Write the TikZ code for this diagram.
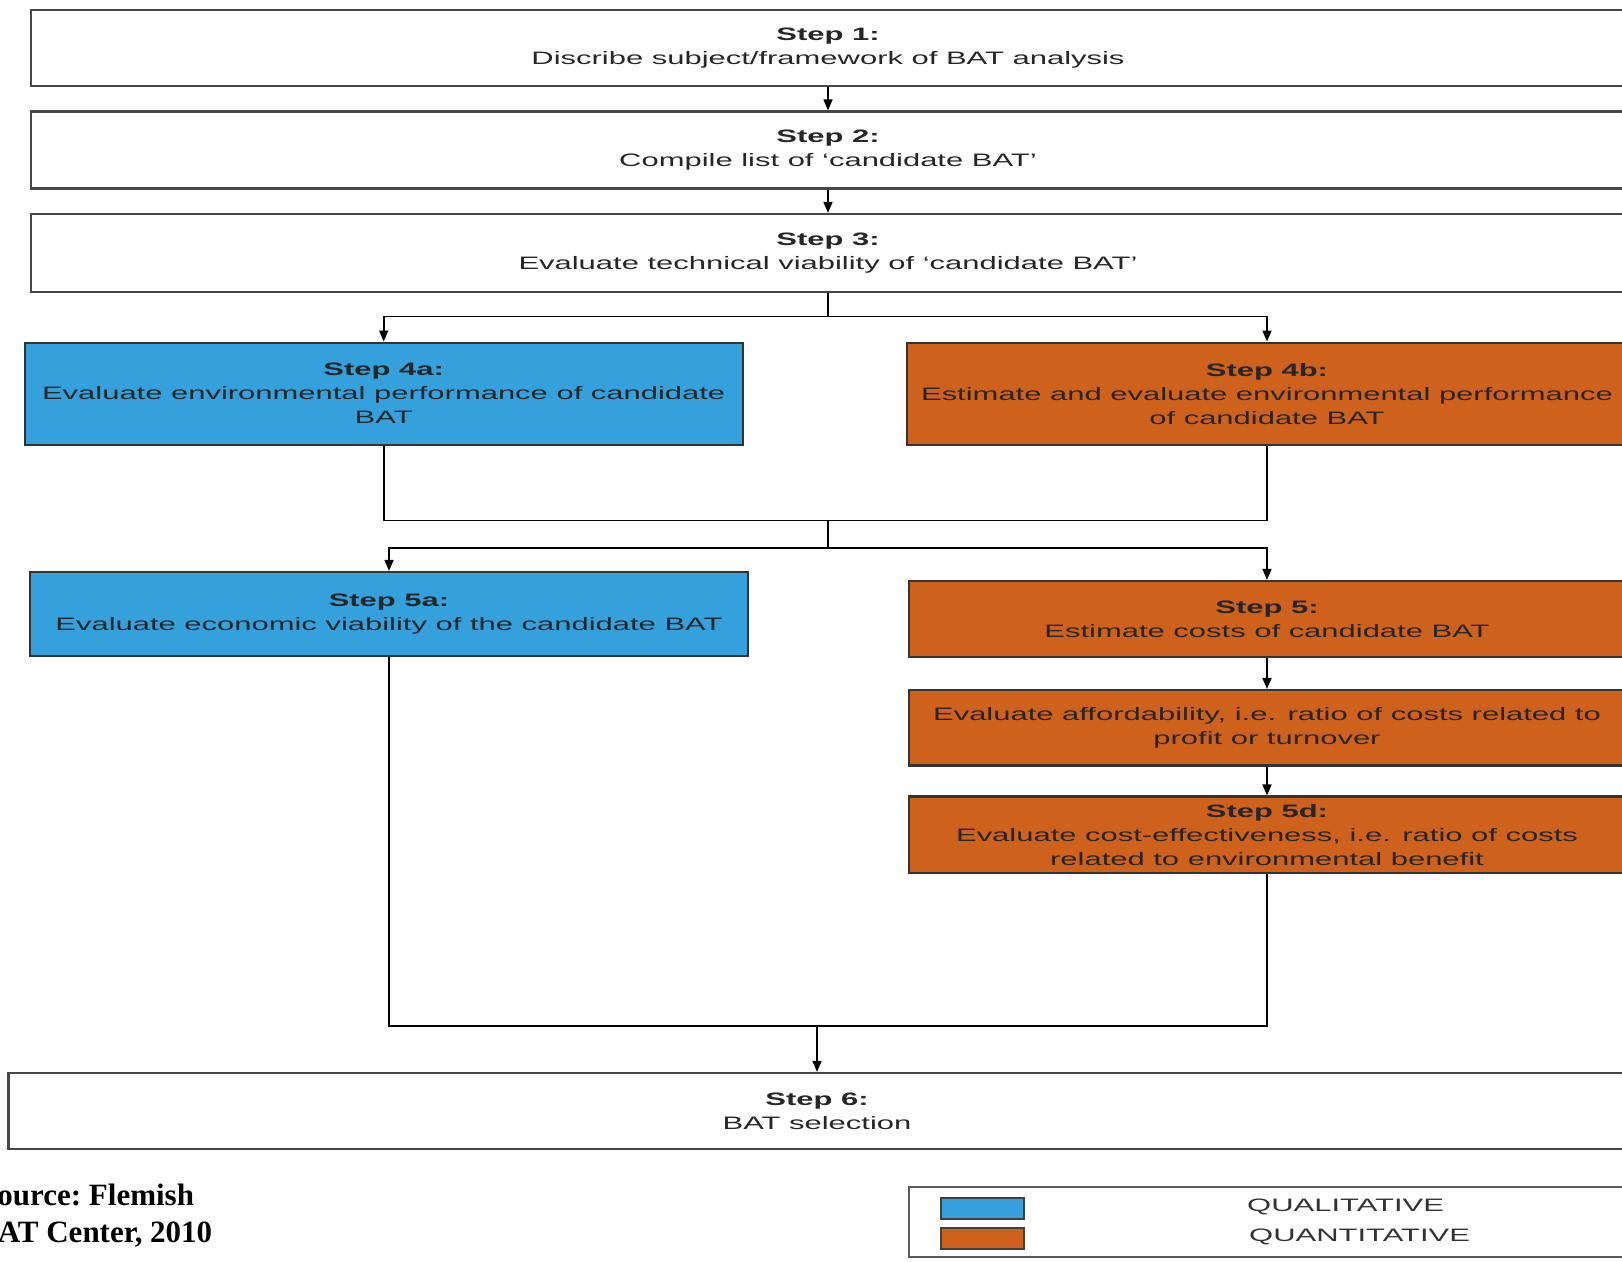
\documentclass[tikz,border=0pt]{standalone}
\usepackage{fontspec}
\setmainfont{Liberation Sans}[FakeStretch=1.72]
\newfontfamily\srcfont{Liberation Serif}
\usetikzlibrary{arrows.meta}

\definecolor{qualblue}{RGB}{52,161,221}
\definecolor{quantorange}{RGB}{206,97,28}

\tikzset{
  stepbox/.style={draw=black!72, line width=2.2pt, inner sep=0pt, align=center,
    text=black!85, font=\fontsize{18}{24}\selectfont},
  whitebox/.style={stepbox, fill=white},
  bluebox/.style={stepbox, fill=qualblue, draw=black!80},
  orangebox/.style={stepbox, fill=quantorange, draw=black!80},
  link/.style={line width=1.6pt, black},
  arr/.style={link, -{Triangle[length=11pt,width=9pt]}},
  swatch/.style={draw=black!75, line width=1.4pt, minimum width=83pt, minimum height=21pt, inner sep=0pt},
  legendtext/.style={anchor=west, inner sep=0pt, text=black!80, font=\fontsize{18}{22}\selectfont},
  srctext/.style={anchor=base west, inner sep=0pt, font=\srcfont\bfseries\frenchspacing\fontsize{31}{38}\selectfont},
}

\begin{document}
\begin{tikzpicture}[x=1pt, y=-1pt]
\clip (0,0) rectangle (1622,1261);
\fill[white] (0,0) rectangle (1622,1261);

% main sequence
\node[whitebox, minimum width=1594pt, minimum height=76pt] (s1) at (828,48)
  {\textbf{Step 1:}\\Discribe subject/framework of BAT analysis};
\node[whitebox, minimum width=1594pt, minimum height=77pt] (s2) at (828,150)
  {\textbf{Step 2:}\\Compile list of `candidate BAT'};
\node[whitebox, minimum width=1594pt, minimum height=78pt] (s3) at (828,253)
  {\textbf{Step 3:}\\Evaluate technical viability of `candidate BAT'};

% environmental performance
\node[bluebox, minimum width=718pt, minimum height=102pt] (s4a) at (383.7,393.6)
  {\textbf{Step 4a:}\\Evaluate environmental performance of candidate\\BAT};
\node[orangebox, minimum width=720pt, minimum height=102pt] (s4b) at (1267,393.6)
  {\textbf{Step 4b:}\\Estimate and evaluate environmental performance\\of candidate BAT};

% economic evaluation
\node[bluebox, minimum width=718pt, minimum height=84pt] (s5a) at (389,614)
  {\textbf{Step 5a:}\\Evaluate economic viability of the candidate BAT};
\node[orangebox, minimum width=716pt, minimum height=76pt] (s5b) at (1267,619)
  {\textbf{Step 5:}\\Estimate costs of candidate BAT};
\node[orangebox, minimum width=716pt, minimum height=75.5pt] (s5c) at (1267,727.8)
  {Evaluate affordability, i.e. ratio of costs related to\\profit or turnover};
\node[orangebox, minimum width=716pt, minimum height=76.5pt] (s5d) at (1267,834.8)
  {\textbf{Step 5d:}\\Evaluate cost-effectiveness, i.e. ratio of costs\\related to environmental benefit};

% selection
\node[whitebox, minimum width=1617pt, minimum height=76pt] (s6) at (817,1111)
  {\textbf{Step 6:}\\BAT selection};

% junction points
\coordinate (j1) at (828,316.5);
\coordinate (j2) at (828,520.3);
\coordinate (j3) at (828,548.2);
\coordinate (j4) at (817,1026);

% connectors
\draw[arr] (s1) -- (s2);
\draw[arr] (s2) -- (s3);
\draw[link] (s3) -- (j1);
\draw[arr] (j1) -| (s4a.north);
\draw[arr] (j1) -| (s4b.north);
\draw[link] (s4a.south) |- (j2) -| (s4b.south);
\draw[link] (j2) -- (j3);
\draw[arr] (j3) -| (s5a.north);
\draw[arr] (j3) -| (s5b.north);
\draw[arr] (s5b) -- (s5c);
\draw[arr] (s5c) -- (s5d);
\draw[link] (s5a.south) |- (j4) -| (s5d.south);
\draw[arr] (j4) -- (s6);

% source note, running off the left edge
\node[srctext] (src1) at (-20,1205) {Source: Flemish};
\node[srctext] (src2) at (-23,1242) {BAT Center, 2010};

% legend
\node[draw=black!65, line width=1.8pt, fill=white, minimum width=716pt, minimum height=70.5pt, inner sep=0pt] (legend) at (1267,1222) {};
\node[swatch, fill=qualblue] (qlsw) at (982.5,1208.5) {};
\node[swatch, fill=quantorange] (qnsw) at (982.5,1238.5) {};
\node[legendtext] (qltext) at (1247,1207) {QUALITATIVE};
\node[legendtext] (qntext) at (1249,1237) {QUANTITATIVE};
\end{tikzpicture}
\end{document}
